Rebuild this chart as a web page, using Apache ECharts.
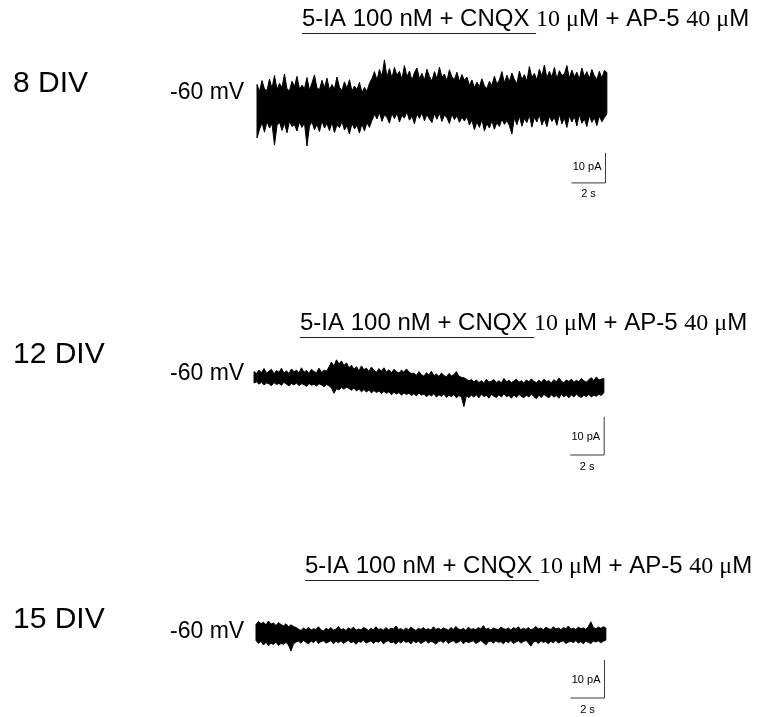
<!DOCTYPE html>
<html>
<head>
<meta charset="utf-8">
<script src="https://cdn.jsdelivr.net/npm/echarts@6/dist/echarts.min.js"></script>
<style>
  html, body { margin: 0; padding: 0; background: #fff; }
  #chart { width: 758px; height: 717px; }
</style>
</head>
<body>
<div id="chart"></div>
<script>
// Holding-current recordings (pA) at -60 mV: upper and lower envelope of each trace,
// one envelope sample every DT seconds.
const DT = 0.147;
const divLabels = ['8 DIV', '12 DIV', '15 DIV'];
const holdingLabel = '-60 mV';
const scaleBarSeconds = 2;
const scaleBarPicoamps = 10;

// 8 DIV
const trace8Top = [
  38.5,36.2,39.8,37.0,36.5,40.3,37.2,41.5,36.8,38.9,37.5,42.0,37.0,36.4,39.6,37.8,41.2,36.9,38.3,37.1,
  40.8,36.6,39.0,41.7,37.3,36.8,39.9,37.4,40.6,36.7,38.5,37.0,41.0,37.6,36.5,39.4,37.2,40.1,36.3,38.0,
  36.8,39.2,35.8,37.5,36.2,38.9,
  40.5,42.8,40.0,43.5,41.2,46.7,41.0,43.8,40.6,44.2,41.5,42.9,40.2,44.8,41.0,43.0,39.8,42.5,44.0,40.5,
  42.2,40.0,43.6,41.2,39.6,42.8,40.4,44.3,40.9,42.0,39.7,43.4,41.0,40.2,42.6,39.5,41.8,39.9,41.0,
  38.2,40.0,37.5,39.3,37.8,40.4,38.0,37.2,39.6,38.1,41.3,38.6,40.0,42.8,39.0,41.6,
  39.5,42.3,40.2,38.8,43.0,40.1,41.8,39.6,44.5,40.8,42.2,40.0,43.6,41.2,45.0,40.7,42.9,41.0,44.2,40.4,
  43.1,41.5,42.0,44.8,40.6,43.3,41.1,42.6,40.3,44.0,41.2,42.8,40.5,43.5,41.4,40.2,42.9,40.6,43.2,42.5
];
const trace8Bottom = [
  20.7,23.5,25.8,22.6,26.2,24.0,25.5,18.3,24.8,26.0,23.2,25.6,22.4,26.3,24.5,25.1,23.0,26.0,24.2,25.7,
  18.0,24.6,26.1,23.4,25.2,22.8,26.4,24.0,25.5,23.1,25.9,22.5,25.0,24.1,26.2,23.3,24.8,22.0,25.6,23.7,
  24.9,22.3,25.4,23.0,25.8,24.2,
  26.5,28.6,27.0,29.2,26.2,28.4,27.5,25.6,28.9,27.1,29.0,26.0,28.2,27.3,29.4,26.6,28.0,25.4,28.7,27.2,
  29.1,26.4,28.5,27.0,25.8,28.8,26.9,29.0,26.2,28.3,27.4,25.5,28.6,26.8,28.1,25.9,27.6,26.3,27.8,
  25.0,26.6,23.4,26.0,24.2,26.8,23.0,25.5,24.0,26.4,23.6,25.8,24.5,27.0,25.2,26.5,
  24.8,22.0,27.4,25.1,28.0,24.6,27.2,25.8,28.3,24.3,27.6,26.0,28.4,25.0,27.1,24.4,28.0,26.2,27.5,24.9,
  28.6,25.4,27.3,24.2,28.1,26.0,27.8,24.7,28.5,25.6,27.0,24.5,28.2,25.9,27.4,24.8,28.0,26.1,27.5,28.7
];

// 12 DIV
const trace12Top = [
  23.0,22.5,23.4,22.7,23.8,22.6,23.1,23.6,22.4,23.3,22.8,23.9,22.6,23.2,22.5,23.7,22.9,23.4,22.6,24.0,
  22.8,23.3,22.5,23.6,23.0,22.7,23.9,22.8,23.4,23.1,24.2,
  25.5,24.4,26.1,25.0,25.8,24.6,25.3,
  24.0,24.7,23.6,24.3,23.2,24.5,23.5,23.9,23.0,24.2,23.4,22.8,23.8,23.1,24.0,22.9,23.5,22.7,23.6,23.0,
  22.6,23.4,22.8,23.7,22.9,22.5,
  22.6,22.0,23.0,22.2,21.8,22.7,22.1,23.1,21.9,22.4,21.7,22.6,22.0,21.6,22.5,21.9,22.2,23.0,21.8,21.5,21.4,
  21.0,20.6,20.9,
  20.3,20.8,20.1,20.6,20.0,21.0,20.2,20.5,20.9,20.1,20.6,20.0,21.2,20.3,20.7,20.1,20.5,21.0,20.2,20.6,
  20.0,20.8,20.3,21.1,20.4,20.1,20.7,20.2,21.0,20.4,20.6,20.0,20.9,20.3,21.3,20.5,20.1,20.8,20.4,21.0,
  20.2,20.7,20.3,21.2,20.6,20.2,20.9,21.4,20.6,21.6,20.8,21.0,21.2
];
const trace12Bottom = [
  20.0,20.3,19.7,20.2,19.5,20.0,19.8,19.3,20.1,19.6,19.9,19.4,20.2,19.7,19.2,19.9,19.5,20.0,19.3,19.8,
  19.6,19.1,19.9,19.4,19.7,19.2,19.8,19.5,19.0,19.6,19.3,
  18.7,17.3,18.5,18.2,18.8,18.4,18.9,
  18.6,18.1,18.7,17.9,18.4,17.7,18.3,17.6,18.2,17.4,18.0,17.5,17.9,17.2,17.8,17.3,17.7,16.9,17.6,17.1,
  17.5,16.8,17.4,17.0,17.3,16.7,
  17.2,16.6,17.4,16.8,17.1,16.4,17.0,16.6,17.2,16.3,16.9,16.5,17.1,16.2,16.8,16.4,17.0,16.1,16.7,16.3,13.8,
  16.6,16.2,16.8,
  16.3,16.9,16.1,17.1,16.4,16.8,16.0,17.0,16.5,16.2,16.9,16.3,17.2,16.4,16.7,16.0,16.9,16.2,17.0,16.5,
  16.1,16.8,16.3,17.1,16.4,15.9,16.8,16.2,17.0,16.5,16.1,16.9,16.3,16.7,16.0,17.0,16.4,16.8,16.1,16.9,
  16.3,17.1,16.5,16.2,16.8,16.4,17.0,16.3,16.8,16.5,17.1,16.7,17.5
];

// 15 DIV
const trace15Top = [
  20.4,21.2,20.6,21.0,20.3,21.3,20.5,20.8,20.1,20.9,20.4,20.0,20.6,19.8,20.3,19.9,19.6,
  19.2,18.8,19.5,19.0,19.7,18.9,19.3,19.1,19.8,19.0,
  18.7,19.4,19.0,19.6,18.9,19.2,19.9,19.0,19.3,18.8,
  19.5,19.1,19.7,18.9,19.2,19.0,19.6,19.3,18.8,19.4,
  19.0,19.8,19.1,19.3,18.9,19.6,19.0,19.4,19.2,20.0,
  19.1,19.3,18.9,19.5,19.0,19.7,19.2,18.8,19.4,19.1,
  19.6,19.0,19.3,18.9,19.8,19.1,19.4,19.0,19.5,19.2,
  18.9,19.6,19.1,19.9,19.2,19.0,19.4,18.8,19.7,19.1,
  19.3,19.0,19.6,19.2,20.1,19.1,19.4,18.9,19.5,19.2,
  19.0,19.7,19.3,19.1,19.5,18.9,19.6,19.2,19.8,19.0,
  19.4,19.1,19.6,19.0,19.3,19.9,19.2,19.5,19.0,19.7,
  19.3,19.1,19.8,19.2,19.5,19.0,19.6,19.3,20.0,19.2,
  19.4,19.1,19.7,19.3,19.5,19.1,19.9,21.1,19.6,19.3,
  19.7,19.4,19.8,19.5
];
const trace15Bottom = [
  16.2,15.4,16.0,15.0,15.7,14.8,15.5,15.1,15.8,14.9,15.4,15.2,15.7,15.0,13.4,15.3,15.8,
  16.0,15.5,16.2,15.7,15.3,16.1,15.6,16.3,15.4,15.9,
  16.1,15.5,15.8,16.2,15.3,16.0,15.6,16.1,15.4,15.9,
  16.2,15.6,15.9,15.2,16.0,15.7,16.3,15.5,15.8,16.1,
  15.4,16.0,15.7,16.2,15.3,15.9,16.1,15.6,15.8,15.2,
  16.0,15.5,16.2,15.7,15.9,15.3,16.1,15.6,16.0,15.4,
  15.8,16.2,15.5,16.0,15.7,15.2,15.9,16.1,15.6,16.3,
  15.4,15.9,16.1,15.5,15.8,16.2,15.3,16.0,15.6,15.9,
  16.1,15.4,15.8,16.2,15.6,15.0,15.9,16.0,15.5,16.1,
  15.7,15.9,15.3,16.0,15.6,16.2,15.4,15.8,16.1,15.5,
  15.9,16.2,15.6,14.7,15.8,16.0,15.4,16.1,15.7,15.9,
  15.3,16.0,15.6,16.2,15.5,15.9,16.1,15.4,15.8,16.0,
  15.6,16.2,15.5,15.9,15.3,16.1,15.7,15.4,16.0,15.8,
  16.1,15.6,16.0,16.3
];

const traces = [
  { top: trace8Top, bottom: trace8Bottom },
  { top: trace12Top, bottom: trace12Bottom },
  { top: trace15Top, bottom: trace15Bottom }
];

// Panel layout (pixels) and scale-bar anchors (axis units)
const panels = [
  { left: 257, top: 50,  height: 150, yMax: 50, barEnd: 20.5, barBase: 5.7,  titleX: 302, titleY: 19.5,  divY: 84,  mvY: 92.5, pAY: 167, sY: 193.5 },
  { left: 254, top: 345, height: 114, yMax: 30, barEnd: 20.6, barBase: 1.05, titleX: 300, titleY: 323.5, divY: 355, mvY: 374,  pAY: 437, sY: 466.5 },
  { left: 256, top: 588, height: 114, yMax: 30, barEnd: 20.5, barBase: 1.05, titleX: 305, titleY: 566.5, divY: 620, mvY: 632,  pAY: 680, sY: 709.5 }
];
const GRID_W = 360;
const PX_PER_S = 17;

const SANS = '"Liberation Sans", Arial, sans-serif';
const SERIF = '"Liberation Serif", "Times New Roman", serif';
const TITLE_SIZE = 24;

const chart = echarts.init(document.getElementById('chart'), null, { renderer: 'canvas' });

// width of the underlined part of the condition label
const measureCtx = document.createElement('canvas').getContext('2d');
measureCtx.font = TITLE_SIZE + 'px ' + SANS;
const underlineW = measureCtx.measureText('5-IA 100 nM + CNQX ').width;

const grids = [], xAxes = [], yAxes = [], series = [], graphics = [];

panels.forEach((p, k) => {
  grids.push({ left: p.left, top: p.top, width: GRID_W, height: p.height });
  xAxes.push({ type: 'value', gridIndex: k, min: 0, max: GRID_W / PX_PER_S, show: false });
  yAxes.push({ type: 'value', gridIndex: k, min: 0, max: p.yMax, show: false });

  const tr = traces[k];
  // current trace: filled region between its upper and lower envelopes
  series.push({
    type: 'custom',
    xAxisIndex: k, yAxisIndex: k,
    silent: true,
    animation: false,
    data: [[0, tr.top[0]]],
    renderItem: function (params, api) {
      const pts = [];
      for (let i = 0; i < tr.top.length; i++) pts.push(api.coord([i * DT, tr.top[i]]));
      for (let i = tr.bottom.length - 1; i >= 0; i--) pts.push(api.coord([i * DT, tr.bottom[i]]));
      return {
        type: 'polygon',
        shape: { points: pts },
        style: { fill: '#000', stroke: '#000', lineWidth: 1, lineJoin: 'round' }
      };
    }
  });

  // scale bars: 2 s horizontal, 10 pA vertical
  series.push({
    type: 'line',
    xAxisIndex: k, yAxisIndex: k,
    silent: true,
    animation: false,
    symbol: 'none',
    lineStyle: { color: '#3a3a3a', width: 1 },
    data: [
      [p.barEnd - scaleBarSeconds, p.barBase],
      [p.barEnd, p.barBase],
      [p.barEnd, p.barBase + scaleBarPicoamps]
    ]
  });

  const barX = p.left + p.barEnd * PX_PER_S;

  graphics.push({
    type: 'text',
    style: {
      x: p.titleX, y: p.titleY,
      text: '{s|5-IA 100 nM + CNQX }{r|10 μ}{s|M + AP-5 }{r|40 μ}{s|M}',
      verticalAlign: 'middle',
      rich: {
        s: { fontFamily: SANS, fontSize: TITLE_SIZE, fill: '#000', lineHeight: 28 },
        r: { fontFamily: SERIF, fontSize: TITLE_SIZE, fill: '#000', lineHeight: 28 }
      }
    }
  });
  graphics.push({
    type: 'line',
    shape: { x1: p.titleX, y1: p.titleY + 14, x2: p.titleX + underlineW, y2: p.titleY + 14 },
    style: { stroke: '#222', lineWidth: 1.2 }
  });
  graphics.push({
    type: 'text',
    style: { x: 13, y: p.divY, text: divLabels[k], font: '30px ' + SANS, fill: '#000', verticalAlign: 'middle' }
  });
  graphics.push({
    type: 'text',
    style: { x: 170, y: p.mvY, text: holdingLabel, font: '23px ' + SANS, fill: '#000', verticalAlign: 'middle' }
  });
  graphics.push({
    type: 'text',
    style: { x: barX - 4, y: p.pAY, text: scaleBarPicoamps + ' pA', font: '11px ' + SANS, fill: '#000', align: 'right', verticalAlign: 'middle' }
  });
  graphics.push({
    type: 'text',
    style: { x: barX - scaleBarSeconds * PX_PER_S / 2, y: p.sY, text: scaleBarSeconds + ' s', font: '11px ' + SANS, fill: '#000', align: 'center', verticalAlign: 'middle' }
  });
});

chart.setOption({
  backgroundColor: '#fff',
  animation: false,
  grid: grids,
  xAxis: xAxes,
  yAxis: yAxes,
  series: series,
  graphic: graphics
});
</script>
</body>
</html>
